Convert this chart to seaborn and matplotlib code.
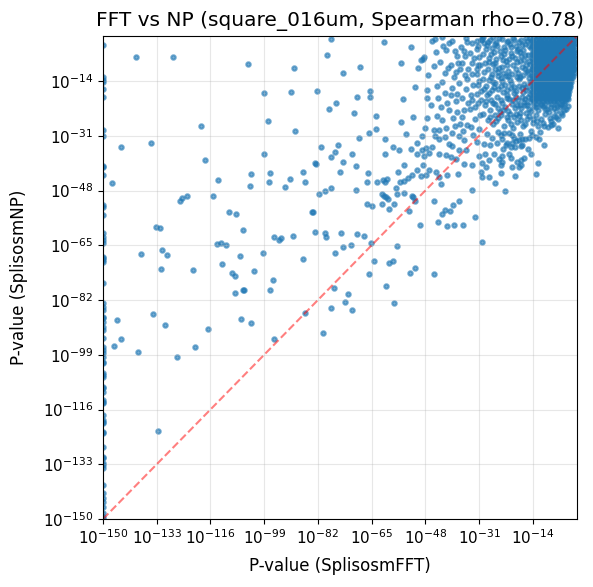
import matplotlib
matplotlib.use("Agg")
import matplotlib.pyplot as plt
import matplotlib.ticker as mticker
import pandas as pd
import seaborn as sb
import numpy as np

# p-values are kept as log10 exponents (FFT, NP)
floor_exp = -150   # p = 0 is clipped to 1e-150

# points sitting on the left spine (FFT p clipped), NP exponent only
edge_np = [-2.8, -12.6, -13.7, -14.4, -16.6, -19.0, -29.2, -31.1, -40.4, -40.8,
           -43.3, -52.5, -53.0, -55.6, -61.3, -62.3, -63.4, -64.4, -68.5, -69.0,
           -69.6, -70.1, -76.8, -83.0, -84.1, -85.1, -87.2, -87.7, -88.7, -90.3,
           -91.3, -93.9, -96.5, -97.5, -98.5, -99.7, -101.3, -101.6, -104.7, -105.3,
           -105.9, -109.0, -109.3, -110.6, -113.1, -113.7, -114.0, -117.7, -119.3, -119.9,
           -120.2, -123.0, -123.3, -127.7, -130.8, -131.1, -132.6, -133.3, -134.2, -139.5,
           -142.0, -143.5, -144.8, -146.3, -148.2, -149.4, -150.0]

# sparse points, far left part (FFT exp, NP exp)
sparse_left = [(-139.4, -6.6), (-128.0, -6.6), (-104.2, -8.8), (-99.0, -17.8), (-97.7, -26.5),
               (-118.9, -28.0), (-144.2, -34.6), (-134.7, -33.3), (-99.0, -36.7), (-117.6, -38.6),
               (-147.0, -45.8), (-113.5, -44.8), (-103.1, -43.0), (-97.0, -42.6), (-103.4, -46.7),
               (-97.4, -45.4), (-123.3, -49.7), (-124.9, -50.3), (-125.6, -51.2), (-115.1, -49.7),
               (-110.0, -54.8), (-107.9, -55.4), (-105.6, -60.3), (-133.1, -59.4), (-132.0, -59.7),
               (-95.8, -62.5), (-94.3, -63.4), (-113.8, -64.6), (-112.7, -64.4), (-111.1, -64.9),
               (-137.9, -67.8), (-131.2, -66.6), (-129.6, -68.1), (-106.8, -68.4), (-99.3, -67.5),
               (-112.2, -70.8), (-131.8, -72.5), (-121.6, -72.8), (-109.1, -73.6), (-108.3, -74.6),
               (-102.2, -73.1), (-96.2, -75.9), (-105.5, -78.8), (-105.8, -79.0), (-108.1, -79.9),
               (-97.0, -79.0), (-134.1, -86.4), (-145.5, -88.3), (-130.3, -89.9), (-106.2, -88.0),
               (-103.1, -89.2), (-116.8, -91.1), (-144.2, -94.2), (-146.5, -96.4), (-95.8, -94.2),
               (-120.8, -96.7), (-138.8, -98.2), (-126.5, -99.8), (-132.5, -122.7)]

# sparse points, middle part
sparse_mid = [(-77.8, -1.0), (-61.0, -2.0), (-52.4, -3.5), (-79.0, -6.0), (-89.5, -10.0),
              (-73.9, -11.6), (-68.6, -9.7), (-55.6, -8.5), (-50.2, -10.0), (-49.4, -7.5),
              (-48.8, -7.1), (-48.3, -6.4), (-90.4, -17.5), (-82.2, -17.1), (-65.4, -17.2),
              (-65.4, -19.0), (-69.5, -19.0), (-51.3, -15.9), (-47.5, -16.9), (-47.4, -19.4),
              (-55.0, -19.7), (-76.2, -20.8), (-78.4, -22.8), (-70.5, -23.9), (-63.5, -24.9),
              (-89.1, -29.5), (-69.0, -31.8), (-65.8, -30.2), (-63.5, -29.0), (-55.6, -26.7),
              (-51.8, -25.3), (-48.1, -28.6), (-54.0, -30.5), (-60.7, -32.1), (-80.9, -34.6),
              (-75.5, -33.9), (-76.5, -36.1), (-77.7, -37.7), (-71.1, -36.7), (-73.9, -39.2),
              (-69.8, -40.5), (-83.0, -39.5), (-82.7, -39.6), (-60.7, -36.7), (-58.1, -34.6),
              (-56.3, -35.4), (-52.4, -35.2), (-50.5, -33.3), (-49.1, -35.4), (-47.7, -34.9),
              (-50.5, -36.7), (-48.4, -37.3), (-54.6, -40.2), (-56.7, -42.3), (-50.6, -41.6),
              (-52.3, -43.3), (-49.5, -43.4), (-47.7, -43.3), (-48.6, -40.2), (-90.7, -44.5),
              (-92.4, -46.9), (-86.7, -42.3), (-86.0, -45.3), (-75.0, -42.3), (-66.0, -42.6),
              (-66.3, -45.4), (-63.2, -45.4), (-61.3, -44.7), (-60.0, -44.5), (-60.7, -45.3),
              (-55.9, -45.4), (-54.8, -45.1), (-57.4, -47.3), (-53.5, -44.2), (-81.5, -49.2),
              (-79.6, -48.2), (-77.7, -47.3), (-69.8, -47.9), (-61.6, -49.2), (-61.0, -49.6),
              (-60.5, -49.9), (-59.7, -50.7), (-56.9, -49.2), (-54.8, -48.9), (-52.3, -49.6),
              (-52.0, -49.9), (-51.4, -51.3), (-66.3, -52.3), (-65.0, -52.8), (-61.6, -52.3),
              (-57.8, -52.3), (-59.4, -53.8), (-53.1, -54.4), (-49.8, -58.8), (-83.8, -54.8),
              (-83.6, -54.8), (-93.7, -62.8), (-89.8, -62.2), (-82.8, -61.0), (-79.6, -61.3),
              (-79.3, -62.5), (-74.6, -61.3), (-69.5, -61.6), (-67.3, -62.2), (-65.1, -64.4),
              (-56.9, -65.3), (-76.5, -67.5), (-74.1, -65.6), (-71.4, -65.0), (-86.6, -69.4),
              (-64.1, -70.0), (-59.4, -70.6), (-58.1, -70.0), (-52.7, -73.7), (-51.2, -72.2),
              (-65.7, -74.0), (-60.3, -77.7), (-76.8, -78.4), (-72.4, -80.2), (-73.3, -82.7),
              (-71.1, -85.2), (-77.7, -84.6), (-57.8, -83.0), (-86.0, -86.1), (-80.3, -92.3)]

# sparse points around the dense cluster
sparse_right = [(-45.2, -51.3), (-41.7, -54.1), (-42.6, -55.4), (-40.1, -54.4), (-39.1, -52.6),
                (-37.2, -51.3), (-43.9, -57.9), (-41.0, -59.1), (-38.8, -58.8), (-36.0, -58.8),
                (-32.2, -56.3), (-30.0, -64.1), (-45.2, -74.0), (-22.7, -48.2), (-33.1, -47.8),
                (-42.4, -3.1), (-42.6, -0.4), (-35.2, -0.7), (-34.7, -1.8), (-33.1, -2.1),
                (-31.5, -1.5), (-30.5, -1.2), (-28.4, -2.8), (-35.4, -6.2), (-39.8, -9.0),
                (-37.6, -8.5), (-36.5, -8.5), (-33.3, -8.5), (-31.2, -8.9), (-37.1, -10.3),
                (-34.4, -10.3), (-31.5, -10.3), (-41.8, -11.6), (-42.8, -14.4), (-44.2, -15.5),
                (-44.0, -19.4), (-43.1, -22.0), (-44.2, -24.8), (-39.6, -16.2), (-40.0, -18.3),
                (-38.4, -20.1), (-36.5, -19.4), (-35.2, -16.6), (-33.6, -18.3), (-33.3, -19.9),
                (-31.5, -18.0), (-32.3, -22.0), (-35.8, -23.0), (-37.9, -23.5), (-36.3, -25.3),
                (-42.6, -26.1), (-41.4, -28.7), (-43.7, -29.2), (-45.2, -29.2), (-48.9, -31.1),
                (-44.9, -31.1), (-43.7, -32.1), (-41.8, -31.3), (-39.6, -30.0), (-37.3, -31.1),
                (-36.1, -29.4), (-35.8, -32.3), (-34.7, -27.6), (-33.6, -28.2), (-35.2, -35.4),
                (-37.3, -35.4), (-39.5, -34.2), (-38.4, -38.3), (-40.0, -37.5), (-41.5, -37.0),
                (-43.7, -36.7), (-45.8, -34.4), (-46.8, -36.4), (-46.8, -41.6), (-44.7, -42.1),
                (-43.7, -43.7), (-43.1, -46.0), (-41.0, -43.2), (-37.6, -42.9), (-35.8, -39.8),
                (-33.1, -40.1), (-31.0, -37.3), (-30.2, -39.4), (-27.8, -38.5), (-24.7, -38.3),
                (-23.6, -37.3), (-21.5, -36.7), (-21.0, -38.0), (-18.9, -39.0), (-16.8, -38.0),
                (-18.4, -40.6), (-20.5, -40.6), (-24.1, -40.1), (-30.5, -42.1), (-30.0, -43.7),
                (-27.8, -43.7), (-13.1, -42.9), (-10.4, -33.9), (-13.1, -31.3), (-15.2, -31.8),
                (-18.4, -32.3), (-8.3, -27.6), (-12.2, -39.5), (-17.8, -38.5), (-17.8, -40.1),
                (-23.8, -39.0), (-12.0, -32.1), (-17.5, -32.1), (-19.4, -32.5), (-20.5, -33.3),
                (-22.1, -33.3), (-22.6, -33.9), (-21.0, -34.4), (-17.8, -34.2), (-24.1, -30.7),
                (-23.1, -30.2), (-20.5, -30.7),
                (-46.0, -1.5), (-44.5, -5.0), (-40.5, -2.2), (-38.7, -4.6), (-36.8, -3.3),
                (-33.9, -5.2), (-31.8, -4.1), (-47.0, -12.0), (-45.3, -9.3), (-39.0, -12.8),
                (-37.2, -14.6), (-34.8, -13.5), (-32.9, -15.1), (-30.9, -13.9), (-46.2, -21.5),
                (-41.2, -20.7), (-39.2, -25.6), (-34.0, -22.6), (-32.4, -25.8), (-30.6, -24.4),
                (-47.5, -25.5), (-40.6, -22.9), (-38.6, -27.9), (-31.0, -28.9), (-29.5, -33.6),
                (-26.4, -36.5), (-24.0, -42.5), (-28.8, -40.8), (-26.0, -45.6), (-19.6, -43.5),
                (-14.5, -36.8),
                (-44.8, -0.9), (-41.3, -4.4), (-39.4, -1.4), (-37.9, -6.2), (-35.9, -4.6),
                (-32.7, -6.9), (-43.5, -8.1), (-40.9, -10.0), (-38.2, -11.1), (-35.6, -12.0),
                (-33.2, -11.9), (-41.9, -17.6), (-38.0, -17.9), (-34.4, -20.8), (-31.3, -20.7),
                (-36.9, -27.2), (-33.0, -30.9), (-40.6, -33.6), (-31.6, -33.0), (-29.0, -36.7)]

# crowded band left of / below the core
crowded = [(-30.2, -0.8), (-28.9, -3.9), (-27.5, -1.1), (-26.0, -2.6), (-24.8, -0.5), (-23.1, -3.4),
           (-21.7, -1.6), (-20.3, -0.6), (-19.2, -3.0), (-17.6, -1.2), (-16.3, -2.4), (-15.0, -0.7),
           (-29.6, -5.6), (-27.9, -6.9), (-26.4, -5.1), (-24.0, -6.2), (-22.5, -7.7), (-20.9, -5.3),
           (-19.6, -6.8), (-18.1, -5.0), (-16.8, -7.4), (-15.4, -5.9), (-14.6, -3.8),
           (-30.8, -9.1), (-28.2, -10.4), (-26.7, -8.8), (-25.1, -11.2), (-23.6, -9.6), (-21.9, -10.9),
           (-20.2, -9.0), (-18.7, -11.5), (-17.3, -9.7), (-15.9, -10.8), (-14.8, -8.6),
           (-29.9, -13.2), (-27.3, -12.6), (-25.8, -14.7), (-24.2, -13.1), (-22.8, -15.3), (-21.2, -13.8),
           (-19.8, -15.9), (-18.3, -13.4), (-16.7, -14.9), (-15.3, -12.9),
           (-30.4, -17.0), (-28.6, -18.3), (-26.9, -16.8), (-25.4, -19.0), (-23.3, -17.4), (-21.5, -19.6),
           (-20.0, -17.8), (-18.6, -19.9), (-17.0, -17.3), (-15.6, -18.8), (-14.5, -16.4),
           (-29.1, -21.5), (-27.6, -22.9), (-25.9, -21.1), (-24.4, -23.7), (-22.7, -21.9), (-21.1, -24.2),
           (-19.5, -22.4), (-17.9, -23.9), (-16.4, -21.3), (-15.1, -22.8),
           (-28.3, -26.0), (-26.5, -27.3), (-24.9, -25.5), (-23.0, -27.9), (-21.8, -26.2), (-20.4, -28.6),
           (-18.9, -26.7), (-17.2, -28.1), (-15.8, -25.8),
           (-29.3, -2.1), (-26.8, -3.6), (-25.5, -1.8), (-22.3, -2.0), (-20.9, -3.5), (-18.4, -2.0),
           (-17.1, -4.3), (-15.7, -1.6), (-28.0, -8.0), (-25.6, -7.1), (-23.0, -5.5), (-21.4, -7.0),
           (-19.0, -8.2), (-17.8, -6.3), (-16.1, -8.9), (-27.0, -11.8), (-24.6, -10.0), (-22.4, -12.4),
           (-20.7, -11.7), (-19.1, -12.8), (-17.0, -12.0), (-15.0, -14.2), (-28.7, -15.5), (-26.2, -15.9),
           (-23.9, -15.6), (-22.0, -16.9), (-19.3, -17.1), (-17.5, -16.0), (-16.0, -16.9), (-27.2, -19.8),
           (-24.0, -19.9), (-22.2, -19.1), (-20.6, -21.0), (-18.0, -21.4), (-16.5, -19.6), (-14.9, -20.6),
           (-26.1, -24.6), (-23.5, -22.9), (-20.0, -25.3), (-18.2, -24.8), (-16.0, -24.0),
           (-28.5, -30.5), (-26.9, -31.6), (-25.0, -29.8), (-23.7, -31.9), (-21.6, -30.1), (-19.9, -31.8),
           (-18.0, -30.4), (-16.4, -31.9), (-14.7, -29.4), (-27.6, -34.0), (-25.2, -33.3), (-23.4, -35.2),
           (-19.6, -34.6), (-17.3, -33.8), (-15.5, -35.0),
           (-13.6, -21.8), (-12.2, -23.0), (-10.8, -21.6), (-9.5, -22.7), (-8.1, -21.9), (-6.8, -23.2),
           (-5.4, -22.1), (-4.1, -23.0), (-3.0, -21.7), (-13.0, -24.6), (-11.5, -25.7), (-10.1, -24.3),
           (-8.7, -25.4), (-7.2, -24.7), (-5.9, -25.9), (-4.6, -24.4), (-13.9, -27.1), (-12.4, -28.0),
           (-10.9, -26.9), (-9.2, -28.3), (-7.7, -27.4), (-6.1, -28.6), (-11.8, -29.9), (-14.2, -30.6)]

# second layer of the crowded band (it is nearly solid in the picture)
crowded_more = [(-31.4, -3.0), (-29.8, -0.3), (-28.1, -1.9), (-26.6, -0.4), (-25.2, -3.1), (-23.8, -1.0),
                (-22.9, -4.4), (-21.1, -2.5), (-19.9, -1.3), (-18.8, -4.1), (-17.3, -2.7), (-16.2, -0.5),
                (-15.1, -3.2), (-14.4, -1.4),
                (-30.9, -6.5), (-29.0, -8.5), (-27.3, -5.6), (-25.9, -8.3), (-24.5, -4.8), (-23.4, -7.3),
                (-22.0, -8.9), (-20.5, -6.2), (-19.1, -4.6), (-18.0, -7.9), (-16.6, -5.8), (-15.3, -7.9),
                (-14.3, -5.6), (-14.1, -10.2),
                (-31.5, -11.8), (-29.4, -11.1), (-27.8, -13.7), (-26.1, -10.2), (-24.9, -12.3), (-23.3, -11.6),
                (-21.7, -12.3), (-20.8, -14.6), (-19.4, -10.4), (-17.9, -12.7), (-16.5, -10.3), (-15.6, -11.6),
                (-14.2, -12.3), (-14.4, -14.9),
                (-31.2, -15.2), (-29.5, -16.4), (-27.9, -17.8), (-26.5, -14.3), (-25.0, -16.4), (-23.6, -14.1),
                (-22.3, -18.3), (-21.0, -16.3), (-19.4, -18.9), (-18.5, -15.4), (-17.3, -18.9), (-16.2, -15.8),
                (-14.8, -17.9), (-14.2, -19.5),
                (-30.3, -19.8), (-28.9, -20.3), (-26.7, -20.7), (-25.1, -22.4), (-23.7, -20.7), (-21.9, -23.3),
                (-20.4, -19.9), (-19.0, -21.3), (-17.6, -22.4), (-16.9, -20.6), (-15.7, -21.5), (-14.6, -23.4),
                (-29.7, -24.2), (-27.4, -25.0), (-25.6, -26.4), (-23.9, -24.5), (-22.3, -25.1), (-20.8, -27.3),
                (-19.3, -24.1), (-17.7, -26.2), (-16.6, -27.4), (-15.2, -24.9), (-14.0, -25.9),
                (-12.9, -22.2), (-11.3, -21.4), (-10.1, -22.8), (-8.9, -23.7), (-7.4, -22.4), (-6.2, -21.6),
                (-4.8, -21.5), (-3.6, -22.6), (-12.8, -26.3), (-10.5, -27.8), (-8.3, -26.5), (-6.7, -25.3),
                (-5.2, -23.9)]

# solid core near (1, 1): NP exponent per row and the FFT exponents in that row
core_np = [-0.4, -1.3, -2.2, -3.1, -4.0, -4.9, -5.8, -6.7, -7.6, -8.5, -9.4, -10.3,
           -11.2, -12.1, -13.0, -13.9, -14.8, -15.7, -16.6, -17.5, -18.4, -19.3, -20.2, -21.0,
           -0.9, -1.8, -2.6, -3.5, -4.4, -5.3, -6.2, -7.1, -8.0, -8.9, -9.8, -10.7,
           -11.6, -12.5, -13.4, -14.3, -15.2, -16.1, -17.0, -17.9, -18.8, -19.7]
core_fft = [
    [-13.6, -12.3, -11.0, -9.9, -8.5, -7.4, -6.1, -4.9, -3.8, -2.6, -1.4],
    [-14.1, -12.9, -11.6, -10.4, -9.2, -8.0, -6.8, -5.5, -4.3, -3.1, -1.9, -0.9],
    [-13.5, -12.2, -11.1, -9.8, -8.6, -7.3, -6.2, -5.0, -3.7, -2.5, -1.3],
    [-14.2, -13.0, -11.7, -10.5, -9.3, -8.1, -6.9, -5.6, -4.4, -3.2, -2.0, -0.8],
    [-13.4, -12.4, -11.0, -9.7, -8.4, -7.5, -6.0, -4.8, -3.6, -2.4, -1.5],
    [-14.0, -12.8, -11.5, -10.3, -9.1, -7.9, -6.7, -5.4, -4.2, -3.0, -1.8, -0.9],
    [-13.7, -12.1, -10.9, -9.9, -8.7, -7.2, -6.3, -4.9, -3.9, -2.6, -1.4],
    [-14.3, -13.1, -11.8, -10.6, -9.4, -8.2, -7.0, -5.7, -4.5, -3.3, -2.1, -1.0],
    [-13.3, -12.2, -11.2, -9.8, -8.5, -7.4, -6.1, -5.1, -3.7, -2.5, -1.3],
    [-14.0, -12.7, -11.4, -10.2, -9.0, -7.8, -6.6, -5.3, -4.1, -2.9, -1.8, -0.9],
    [-13.6, -12.4, -11.0, -9.6, -8.6, -7.3, -6.2, -4.8, -3.8, -2.4, -1.4],
    [-14.2, -12.9, -11.7, -10.4, -9.2, -8.0, -6.8, -5.6, -4.3, -3.1, -2.0, -1.0],
    [-13.4, -12.3, -10.9, -9.9, -8.4, -7.5, -6.0, -5.0, -3.6, -2.6, -1.5],
    [-14.1, -12.8, -11.6, -10.3, -9.1, -7.9, -6.7, -5.5, -4.2, -3.0, -1.9],
    [-13.7, -12.1, -11.1, -9.7, -8.7, -7.2, -6.3, -4.9, -3.9, -2.5, -1.6],
    [-14.3, -13.0, -11.8, -10.5, -9.3, -8.1, -6.9, -5.7, -4.4, -3.2, -2.2],
    [-13.5, -12.3, -11.0, -9.8, -8.5, -7.4, -6.1, -5.0, -3.7, -2.6],
    [-14.0, -12.7, -11.5, -10.2, -9.0, -7.8, -6.6, -5.4, -4.2, -3.1, -2.3],
    [-13.6, -12.2, -11.1, -9.9, -8.6, -7.3, -6.2, -4.8, -3.8, -2.7],
    [-14.2, -12.9, -11.7, -10.4, -9.2, -8.0, -6.8, -5.6, -4.3, -3.2],
    [-13.4, -12.4, -11.0, -9.7, -8.4, -7.5, -6.0, -5.0, -3.6, -2.8],
    [-14.1, -12.8, -11.6, -10.3, -9.1, -7.9, -6.7, -5.5, -4.2, -3.3],
    [-13.7, -12.2, -10.9, -9.6, -8.7, -7.2, -6.3, -4.9, -3.9],
    [-13.0, -11.4, -10.0, -8.2, -6.6, -5.2, -4.0],
    [-13.0, -11.7, -10.4, -9.3, -7.9, -6.8, -5.5, -4.3, -3.2, -2.0, -0.9],
    [-13.8, -12.5, -11.3, -10.0, -8.8, -7.6, -6.4, -5.1, -3.9, -2.7, -1.5],
    [-12.9, -11.6, -10.5, -9.1, -8.0, -6.6, -5.6, -4.4, -3.1, -1.9, -0.8],
    [-13.9, -12.6, -11.3, -10.1, -8.9, -7.7, -6.5, -5.2, -4.0, -2.8, -1.6],
    [-12.8, -11.7, -10.4, -9.2, -7.8, -6.8, -5.4, -4.2, -3.0, -1.9, -0.9],
    [-13.6, -12.3, -11.2, -9.9, -8.7, -7.5, -6.3, -5.0, -3.7, -2.5, -1.3],
    [-13.1, -11.5, -10.3, -9.3, -8.1, -6.6, -5.7, -4.3, -3.3, -2.0, -1.0],
    [-13.9, -12.7, -11.4, -10.2, -9.0, -7.8, -6.6, -5.3, -4.1, -2.9, -1.7],
    [-12.7, -11.6, -10.6, -9.2, -7.9, -6.8, -5.5, -4.5, -3.1, -1.9, -1.0],
    [-13.5, -12.2, -10.9, -9.7, -8.5, -7.3, -6.1, -4.8, -3.6, -2.4, -1.3],
    [-13.0, -11.8, -10.4, -9.0, -8.0, -6.7, -5.6, -4.2, -3.2, -1.9, -1.0],
    [-13.8, -12.5, -11.3, -10.0, -8.8, -7.6, -6.4, -5.2, -3.9, -2.7, -1.5],
    [-12.8, -11.7, -10.3, -9.3, -7.8, -6.9, -5.4, -4.4, -3.0, -2.0, -1.1],
    [-13.6, -12.3, -11.0, -9.8, -8.6, -7.4, -6.2, -5.0, -3.7, -2.5, -1.4],
    [-13.2, -11.6, -10.6, -9.2, -8.2, -6.7, -5.8, -4.4, -3.4, -2.1],
    [-13.9, -12.6, -11.4, -10.1, -8.9, -7.7, -6.5, -5.3, -4.0, -2.8, -1.8],
    [-12.9, -11.7, -10.5, -9.3, -8.0, -6.9, -5.6, -4.5, -3.2, -2.2],
    [-13.5, -12.2, -11.0, -9.7, -8.5, -7.3, -6.1, -4.9, -3.7, -2.6],
    [-13.1, -11.7, -10.6, -9.4, -8.1, -6.8, -5.7, -4.3, -3.3, -2.4],
    [-13.8, -12.5, -11.3, -10.0, -8.8, -7.6, -6.4, -5.2, -3.9, -2.9],
    [-12.9, -11.9, -10.5, -9.2, -7.9, -7.0, -5.5, -4.5, -3.2],
    [-13.5, -12.3, -11.1, -9.8, -8.6, -7.4, -6.2, -5.0, -3.8, -3.0],
]

tick_exps = [-150, -133, -116, -99, -82, -65, -48, -31, -14]
title = "FFT vs NP (square_016um, Spearman rho=0.78)"
xcolname = "P-value (SplisosmFFT)"
ycolname = "P-value (SplisosmNP)"

# build the table
fft_exp = [floor_exp] * len(edge_np)
np_exp = list(edge_np)
for group in [sparse_left, sparse_mid, sparse_right, crowded, crowded_more]:
    for fx, ny in group:
        fft_exp.append(fx)
        np_exp.append(ny)
for ny, row in zip(core_np, core_fft):
    for fx in row:
        fft_exp.append(fx)
        np_exp.append(ny)

df = pd.DataFrame({xcolname: 10.0 ** np.array(fft_exp),
                   ycolname: 10.0 ** np.array(np_exp)})

lo = 10.0 ** floor_exp
hi = 1.0

fig = plt.figure(figsize=(5.93, 5.87), dpi=100)
ax = fig.add_axes([103 / 593, 68 / 587, 474 / 593, 483 / 587])

sb.scatterplot(data=df, x=xcolname, y=ycolname, ax=ax, s=10, alpha=0.6,
               color="#1f77b4", edgecolor="face", linewidth=1.5)
ax.plot([lo, hi], [lo, hi], "r--", alpha=0.5, linewidth=1.5)

ax.set_xscale("log")
ax.set_yscale("log")
ax.set_xlim(lo, hi)
ax.set_ylim(lo, hi)
ticks = [10.0 ** e for e in tick_exps]
ax.set_xticks(ticks)
ax.set_yticks(ticks)
ax.xaxis.set_minor_locator(mticker.NullLocator())
ax.yaxis.set_minor_locator(mticker.NullLocator())
ax.tick_params(labelsize=11)
ax.grid(True, alpha=0.3)

ax.set_xlabel(xcolname, fontsize=12, labelpad=7)
ax.set_ylabel(ycolname, fontsize=12, labelpad=11)
ax.set_title(title, fontsize=14.5, pad=7)

plt.savefig("out.png", dpi=100)
